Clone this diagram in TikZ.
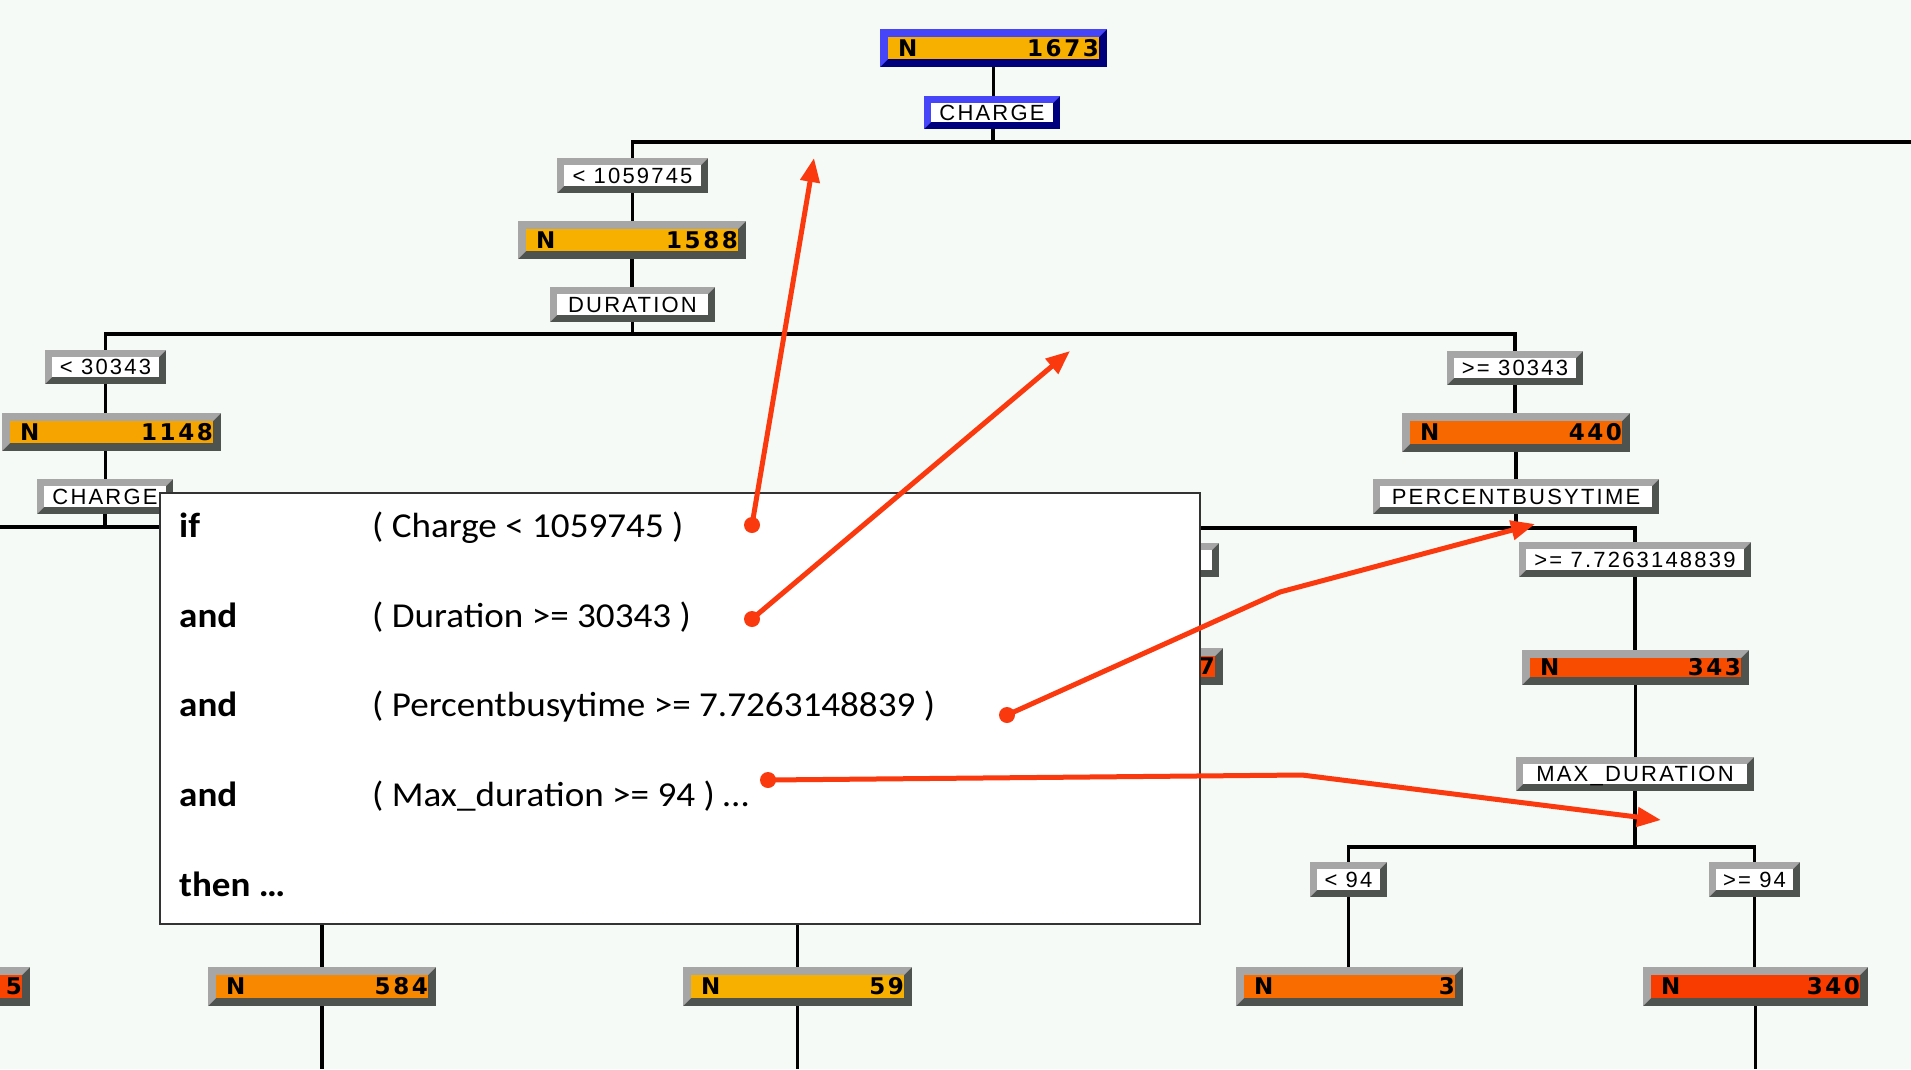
\documentclass[tikz,border=0pt]{standalone}
\usepackage{fontspec}
\usetikzlibrary{arrows.meta}
\newfontfamily\lfont{Liberation Sans}[LetterSpace=10]
\newfontfamily\nfont{DejaVu Sans}[LetterSpace=11]
\newfontfamily\cfont{Carlito}[FakeStretch=1.06]
\definecolor{bgc}{HTML}{F6FAF7}
\definecolor{gl}{HTML}{A6A6A6}
\definecolor{gd}{HTML}{4E534F}
\definecolor{bl}{HTML}{4646F8}
\definecolor{bd}{HTML}{00007C}
\definecolor{amb}{HTML}{F8B000}
\definecolor{amb2}{HTML}{F6A400}
\definecolor{or1}{HTML}{F86800}
\definecolor{or2}{HTML}{F84C00}
\definecolor{or3}{HTML}{F88800}
\definecolor{or4}{HTML}{F86C00}
\definecolor{or5}{HTML}{F83C00}
\definecolor{or6}{HTML}{F84400}
\definecolor{redl}{HTML}{FA3A0E}
\definecolor{ovb}{HTML}{333333}
\pgfdeclarelayer{back}
\pgfdeclarelayer{lines}
\pgfsetlayers{back,lines,main}
\tikzset{
  boxnode/.style={inner sep=0pt,outer sep=0pt},
  ltext/.style={anchor=base,inner sep=0pt,font=\lfont\fontsize{22}{26}\selectfont},
  ntext/.style={inner sep=0pt,font=\nfont\bfseries\fontsize{23}{27}\selectfont},
  tree/.style={draw=black,line width=3.5pt},
  ovk/.style={anchor=base west,inner sep=0pt,font=\cfont\bfseries\fontsize{35}{42}\selectfont},
  ovt/.style={anchor=base west,inner sep=0pt,font=\cfont\fontsize{35}{42}\selectfont},
  dotn/.style={circle,fill=redl,inner sep=0pt,minimum size=16pt},
  rarrow/.style={draw=redl,line width=5pt,-{Triangle[length=24pt,width=19pt]}},
}
% #1 name #2 x0 #3 y0 #4 x1 #5 y1 #6 light #7 dark #8 fill #9 bevel
\newcommand\bbox[9]{%
  \fill[#7] (#2,#3) rectangle (#4,#5);
  \fill[#6] (#2,#5) -- (#2,#3) -- (#4,#3) -- ({#4-#9},{#3+#9}) -- ({#2+#9},{#3+#9}) -- ({#2+#9},{#5-#9}) -- cycle;
  \fill[#8] ({#2+#9},{#3+#9}) rectangle ({#4-#9},{#5-#9});
  \node[boxnode,minimum width={(#4)-(#2)},minimum height={(#5)-(#3)}] (#1) at ({((#2)+(#4))/2},{((#3)+(#5))/2}) {};
}
\newcommand\lbox[6]{%
  \bbox{#1}{#2}{#3}{#4}{#5}{gl}{gd}{white}{7}
  \node[ltext] (#1t) at ([yshift=-7.9pt]#1.center) {#6};
}
\newcommand\nboxc[9]{%
  \bbox{#1}{#2}{#3}{#4}{#5}{#8}{#9}{#6}{8}
  \node[ntext,anchor=base west] (#1a) at ([xshift=18pt,yshift=-8.3pt]#1.west) {N};
  \node[ntext,anchor=base east] (#1b) at ([xshift=-8pt,yshift=-8.3pt]#1.east) {#7};
}
\newcommand\nbox[7]{\nboxc{#1}{#2}{#3}{#4}{#5}{#6}{#7}{gl}{gd}}
\begin{document}
\begin{tikzpicture}[x=1pt,y=-1pt]
\useasboundingbox (0,0) rectangle (1911,1069);
\begin{pgfonlayer}{back}
\fill[bgc] (0,0) rectangle (1911,1069);
\end{pgfonlayer}
\clip (0,0) rectangle (1911,1069);
% tree boxes
\nboxc{n1673}{880}{29}{1107}{67}{amb}{1673}{bl}{bd}
\bbox{charge0}{924}{96}{1060}{129}{bl}{bd}{white}{7}
\node[ltext] (charge0t) at ([yshift=-7.9pt]charge0.center) {CHARGE};
\lbox{lt1059}{557}{158}{708}{193}{< 1059745}
\nbox{n1588}{518}{221}{746}{259}{amb}{1588}
\lbox{dur}{550}{287}{715}{322}{DURATION}
\lbox{lt30343}{45}{350}{166}{384}{< 30343}
\nbox{n1148}{2}{413}{221}{451}{amb2}{1148}
\lbox{charge1}{37}{479}{173}{514}{CHARGE}
\lbox{ge30343}{1447}{351}{1583}{385}{>= 30343}
\nbox{n440}{1402}{413}{1630}{452}{or1}{440}
\lbox{pbt}{1373}{479}{1659}{514}{PERCENTBUSYTIME}
\lbox{lt7726}{997}{543}{1219}{577}{< 7.7263148839}
\nbox{n97}{994}{648}{1223}{685}{or6}{97}
\lbox{ge7726}{1519}{542}{1751}{577}{>= 7.7263148839}
\nbox{n343}{1522}{650}{1749}{685}{or2}{343}
\lbox{maxdur}{1516}{757}{1754}{791}{MAX\_DURATION}
\lbox{lt94}{1310}{862}{1387}{897}{< 94}
\lbox{ge94}{1709}{862}{1800}{897}{>= 94}
\nbox{n3}{1236}{967}{1463}{1006}{or4}{3}
\nbox{n340}{1643}{967}{1868}{1006}{or5}{340}
\nbox{n584}{208}{967}{436}{1006}{or3}{584}
\nbox{n59}{683}{967}{912}{1006}{amb}{59}
\nbox{n5}{-200}{967}{30}{1006}{or6}{5}
% tree connectors
\coordinate (s0) at (993,142);
\coordinate (e0) at (1911,142);
\coordinate (s1) at (632,334);
\coordinate (e2) at (0,527);
\coordinate (s3) at (1516,528);
\coordinate (s4) at (1635,847);
\coordinate (bot) at (0,1069);
\begin{pgfonlayer}{lines}
\draw[tree] (n1673.south) -- (n1673.south |- charge0.north);
\draw[tree] (charge0.south -| s0) -- (s0);
\draw[tree] (lt1059.north) |- (e0);
\draw[tree] (lt1059.south) -- (lt1059.south |- n1588.north);
\draw[tree] (n1588.south) -- (n1588.south |- dur.north);
\draw[tree] (dur.south) -- (dur.south |- s1);
\draw[tree] (lt30343.north) |- (s1) -| (ge30343.north);
\draw[tree] (lt30343.south) -- (lt30343.south |- n1148.north);
\draw[tree] (lt30343.south |- n1148.south) -- (lt30343.south |- charge1.north);
\draw[tree] (e2) -| (n584.north);
\draw[tree] (charge1.south) |- (n59.north |- e2) -- (n59.north);
\draw[tree] (n584.south) -- (n584.south |- bot);
\draw[tree] (n59.south) -- (n59.south |- bot);
\draw[tree] (ge30343.south) -- (ge30343.south |- n440.north);
\draw[tree] (n440.south) -- (n440.south |- pbt.north);
\draw[tree] (pbt.south) -- (pbt.south |- s3);
\draw[tree] (lt7726.north) |- (s3) -| (ge7726.north);
\draw[tree] (lt7726.south) -- (lt7726.south |- n97.north);
\draw[tree] (ge7726.south) -- (ge7726.south |- n343.north);
\draw[tree] (n343.south) -- (n343.south |- maxdur.north);
\draw[tree] (maxdur.south) -- (maxdur.south |- s4);
\draw[tree] (lt94.north) |- (s4) -| (ge94.north);
\draw[tree] (lt94.south) -- (lt94.south |- n3.north);
\draw[tree] (ge94.south) -- (ge94.south |- n340.north);
\draw[tree] (n340.south) -- (n340.south |- bot);
\end{pgfonlayer}
% overlay
\node[draw=ovb,line width=2pt,fill=white,inner sep=0pt,minimum width=1040pt,minimum height=431pt] (ov) at (680,708.5) {};
\node[ovk] (k1) at (179,537) {if};
\node[ovk] (k2) at (179,627) {and};
\node[ovk] (k3) at (179,716) {and};
\node[ovk] (k4) at (179,806) {and};
\node[ovk] (k5) at (179,896) {then …};
\node[ovt] (t1) at (372,537) {( Charge < 1059745 )};
\node[ovt] (t2) at (372,627) {( Duration >= 30343 )};
\node[ovt] (t3) at (372,716) {( Percentbusytime >= 7.7263148839 )};
\node[ovt] (t4) at (372,806) {( Max\_duration >= 94 ) …};
% red arrows
\node[dotn] (d1) at (752,525) {};
\node[dotn] (d2) at (752,619) {};
\node[dotn] (d3) at (1007,715) {};
\node[dotn] (d4) at (768,780) {};
\coordinate (a1) at (814,158);
\coordinate (a2) at (1070,351);
\coordinate (m3) at (1280,592);
\coordinate (a3) at (1535,524);
\coordinate (m4) at (1302,775);
\coordinate (a4) at (1661,820);
\draw[rarrow] (d1.center) -- (a1);
\draw[rarrow] (d2.center) -- (a2);
\draw[rarrow] (d3.center) -- (m3) -- (a3);
\draw[rarrow] (d4.center) -- (m4) -- (a4);
\end{tikzpicture}
\end{document}
